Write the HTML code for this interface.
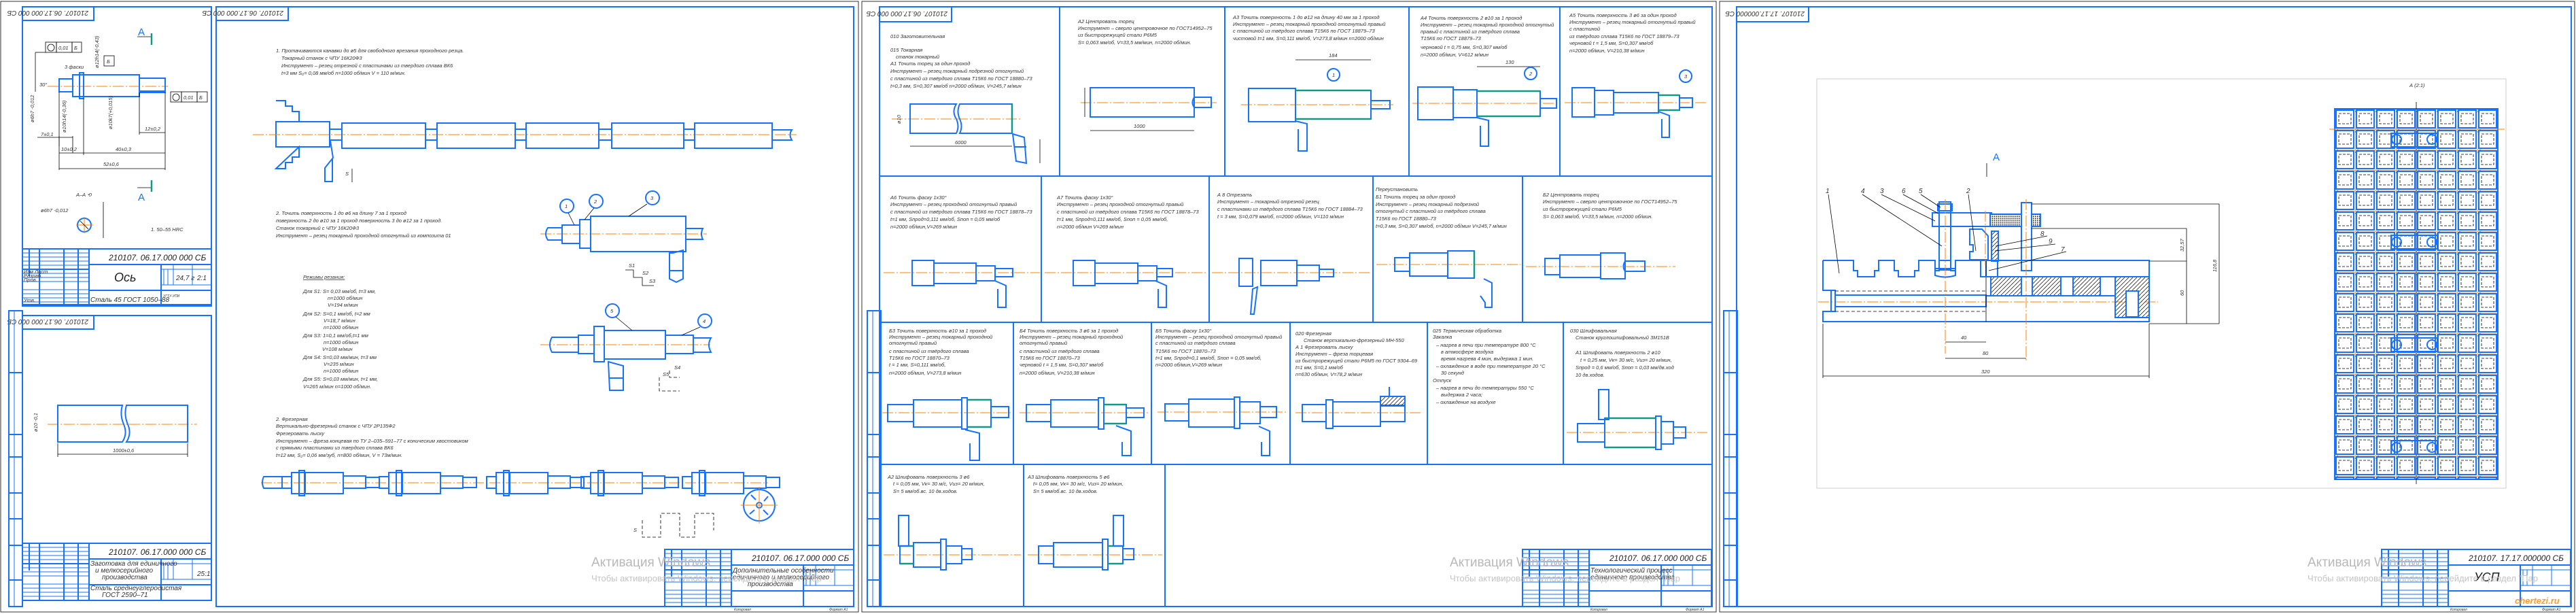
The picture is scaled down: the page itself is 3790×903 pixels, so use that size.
<!DOCTYPE html>
<html><head><meta charset="utf-8">
<style>
html,body{margin:0;padding:0;background:#fff;}
svg{display:block}
.b{stroke:#1672ff;stroke-width:2;fill:none}
.bf{stroke:#1672ff;stroke-width:2;fill:#fff}
.t{stroke:#1672ff;stroke-width:1;fill:none}
.g{stroke:#119988;stroke-width:2.5;fill:none}
.o{stroke:#ff8000;stroke-width:1;stroke-dasharray:16 3 2 3;fill:none}
.k{stroke:#000;stroke-width:0.8;fill:none}
.kd{stroke:#000;stroke-width:0.8;stroke-dasharray:5 3;fill:none}
.gr{stroke:#ccc;stroke-width:1;fill:none}
text{font-family:"Liberation Sans Narrow","Liberation Sans",sans-serif;font-style:italic;font-size:7.5px;fill:#333}
.big{font-size:12px;fill:#222}
.mid{font-size:10px}
.wm{font-family:"Liberation Sans",sans-serif;font-style:normal;fill:#b8b8b8;font-size:19px}
.wm2{font-family:"Liberation Sans",sans-serif;font-style:normal;fill:#c4c4c4;font-size:13px}
</style></head><body>
<svg width="3790" height="903" viewBox="0 0 3790 903" xmlns="http://www.w3.org/2000/svg">
<defs>
<g id="tb">
 <rect x="0" y="0" width="278" height="84" class="b"/>
 <line x1="98" y1="0" x2="98" y2="84" class="b"/>
 <line x1="98" y1="23" x2="278" y2="23" class="b"/>
 <line x1="98" y1="61" x2="278" y2="61" class="b"/>
 <line x1="204" y1="23" x2="204" y2="84" class="b"/>
 <line x1="204" y1="30" x2="278" y2="30" class="t"/>
 <line x1="204" y1="53" x2="278" y2="53" class="t"/>
 <line x1="222" y1="23" x2="222" y2="53" class="t"/>
 <line x1="250" y1="23" x2="250" y2="53" class="t"/>
 <line x1="208" y1="30" x2="208" y2="53" class="t"/>
 <line x1="214" y1="30" x2="214" y2="53" class="t"/>
 <line x1="10" y1="0" x2="10" y2="40" class="b"/>
 <line x1="25" y1="0" x2="25" y2="84" class="b"/>
 <line x1="61" y1="0" x2="61" y2="84" class="b"/>
 <line x1="82" y1="0" x2="82" y2="84" class="b"/>
 <line x1="0" y1="6" x2="98" y2="6" class="t"/>
 <line x1="0" y1="12" x2="98" y2="12" class="t"/>
 <line x1="0" y1="18" x2="98" y2="18" class="t"/>
 <line x1="0" y1="24" x2="98" y2="24" class="t"/>
 <line x1="0" y1="30" x2="98" y2="30" class="b"/>
 <line x1="0" y1="36" x2="98" y2="36" class="t"/>
 <line x1="0" y1="42" x2="98" y2="42" class="t"/>
 <line x1="0" y1="48" x2="98" y2="48" class="t"/>
 <line x1="0" y1="60" x2="98" y2="60" class="t"/>
 <line x1="0" y1="66" x2="98" y2="66" class="t"/>
 <line x1="0" y1="72" x2="98" y2="72" class="t"/>
 <line x1="0" y1="78" x2="98" y2="78" class="t"/>
</g>
<g id="strip">
 <rect x="0" y="0" width="20" height="435" class="b"/>
 <line x1="0" y1="91" x2="20" y2="91" class="b"/>
 <line x1="0" y1="182" x2="20" y2="182" class="b"/>
 <line x1="0" y1="215" x2="20" y2="215" class="b"/>
 <line x1="0" y1="268" x2="20" y2="268" class="b"/>
 <line x1="0" y1="306" x2="20" y2="306" class="b"/>
 <line x1="0" y1="345" x2="20" y2="345" class="b"/>
 <line x1="0" y1="396" x2="20" y2="396" class="b"/>
 <line x1="8" y1="0" x2="8" y2="435" class="t"/>
</g>
<pattern id="grid" x="3435" y="160" width="30" height="30" patternUnits="userSpaceOnUse">
 <rect x="2" y="2" width="26" height="26" fill="none" stroke="#1672ff" stroke-width="2"/>
 <rect x="6" y="7" width="18" height="15" fill="none" stroke="#000" stroke-width="0.8" stroke-dasharray="4 2"/>
 <line x1="0" y1="0" x2="30" y2="0" stroke="#ff8000" stroke-width="1"/>
 <line x1="0" y1="0" x2="0" y2="30" stroke="#ff8000" stroke-width="1"/>
 <circle cx="0" cy="0" r="4" fill="none" stroke="#1672ff" stroke-width="1.5"/>
</pattern>
<pattern id="hat" width="6" height="6" patternUnits="userSpaceOnUse">
 <line x1="0" y1="6" x2="6" y2="0" stroke="#000" stroke-width="0.7"/>
</pattern>
<pattern id="knurl" width="3" height="3" patternUnits="userSpaceOnUse">
 <rect width="3" height="3" fill="#fff"/><rect width="1.5" height="1.5" fill="#000"/>
</pattern>
</defs>

<rect x="1" y="2" width="1262" height="898" class="k"/>
<rect x="1268" y="2" width="1257" height="898" class="k"/>
<rect x="2530" y="2" width="1258" height="898" class="k"/>

<!-- ================= SHEET 1 ================= -->
<rect x="33" y="10" width="278" height="438" class="b"/>
<rect x="33" y="10" width="105" height="20" class="b"/>
<text x="40" y="24" class="mid" transform="rotate(180 85 20)">210107. 06.17.000 000 СБ</text>
<rect x="33" y="464" width="278" height="419" class="b"/>
<rect x="33" y="464" width="105" height="20" class="b"/>
<text x="40" y="478" class="mid" transform="rotate(180 85 474)">210107. 06.17.000 000 СБ</text>
<rect x="318" y="10" width="938" height="882" class="b"/>
<rect x="318" y="10" width="106" height="20" class="b"/>
<text x="325" y="24" class="mid" transform="rotate(180 371 20)">210107. 06.17.000 000 СБ</text>
<use href="#strip" x="13" y="457"/>

<line x1="70" y1="127" x2="247" y2="127" class="o"/>
<rect x="87" y="116" width="20" height="19" class="b"/>
<rect x="107" y="110" width="98" height="32" class="b"/>
<rect x="117" y="107" width="6" height="38" class="b"/>
<rect x="205" y="115" width="38" height="21" class="b"/>
<line x1="205" y1="134" x2="243" y2="134" class="b" stroke-width="3"/>
<rect x="67" y="62" width="16" height="15" class="k"/><rect x="83" y="62" width="23" height="15" class="k"/><rect x="106" y="62" width="14" height="15" class="k"/>
<circle cx="75" cy="70" r="5" class="k"/><text x="86" y="73">0,01</text><text x="109" y="73">Б</text>
<rect x="251" y="135" width="16" height="15" class="k"/><rect x="267" y="135" width="23" height="15" class="k"/><rect x="290" y="135" width="15" height="15" class="k"/>
<circle cx="259" cy="143" r="5" class="k"/><text x="270" y="146">0,01</text><text x="293" y="146">Б</text>
<rect x="153" y="82" width="15" height="15" class="k"/><text x="157" y="93">Б</text>
<line x1="52" y1="77" x2="52" y2="135" class="k"/><line x1="52" y1="77" x2="67" y2="77" class="k"/>
<line x1="87" y1="200" x2="87" y2="215" class="k"/><line x1="107" y1="200" x2="107" y2="225" class="k"/>
<line x1="87" y1="225" x2="243" y2="225" class="k"/><line x1="87" y1="248" x2="243" y2="248" class="k"/>
<line x1="205" y1="195" x2="243" y2="195" class="k"/>
<line x1="87" y1="135" x2="87" y2="250" class="k"/><line x1="243" y1="136" x2="243" y2="250" class="k"/>
<line x1="205" y1="136" x2="205" y2="198" class="k"/><line x1="123" y1="145" x2="123" y2="228" class="k"/>
<line x1="55" y1="202" x2="107" y2="202" class="k"/>
<text x="60" y="200">7±0,1</text><text x="90" y="222">10±0,2</text><text x="170" y="222">40±0,3</text><text x="152" y="244">52±0,6</text><text x="213" y="192">12±0,2</text>
<text x="95" y="101">3 фаски</text><text x="58" y="127">30°</text>
<text x="0" y="0" transform="translate(50 180) rotate(-90)">ø6h7 -0,012</text>
<text x="0" y="0" transform="translate(97 195) rotate(-90)">ø10h14(-0,36)</text>
<text x="0" y="0" transform="translate(145 100) rotate(-90)">ø12h14(-0,43)</text>
<text x="0" y="0" transform="translate(165 190) rotate(-90)">ø10k7(+0,015)</text>
<text x="203" y="52" class="big" style="font-style:normal;fill:#1672ff;font-size:15px">А</text>
<line x1="202" y1="54" x2="222" y2="54" class="k"/><line x1="223" y1="49" x2="223" y2="66" class="g"/>
<text x="203" y="295" class="big" style="font-style:normal;fill:#1672ff;font-size:15px">А</text>
<line x1="202" y1="276" x2="222" y2="276" class="k"/><line x1="223" y1="265" x2="223" y2="282" class="g"/>
<text x="112" y="289">А–А ⟲</text><text x="60" y="312">ø6h7 -0,012</text>
<circle cx="124" cy="331" r="10" class="b"/><line x1="112" y1="331" x2="137" y2="331" stroke="#ff8000"/><line x1="124" y1="319" x2="124" y2="343" stroke="#ff8000"/>
<line x1="118" y1="325" x2="130" y2="337" class="k"/><line x1="152" y1="297" x2="152" y2="350" class="k"/>
<text x="222" y="340">1. 50–55 HRC</text>
<use href="#tb" x="33" y="366"/>
<text x="160" y="383" class="big">210107. 06.17.000 000 СБ</text>
<text x="168" y="414" class="big" style="font-size:18px">Ось</text>
<text x="133" y="444" class="mid">Сталь 45 ГОСТ 1050–88</text>
<text x="259" y="412" class="mid">24,7 г</text><text x="290" y="412" class="mid">2:1</text>
<text x="35" y="402">Изм Лист</text><text x="35" y="408">Разраб.</text><text x="35" y="414">Пров.</text><text x="35" y="444">Утв.</text>
<text x="240" y="437" style="font-size:5px">УГТУ-УПИ</text>
<line x1="70" y1="624" x2="290" y2="624" class="o"/>
<path d="M85 596 H180 Q176 610 182 624 Q188 638 180 650 H85 Z" class="b"/>
<path d="M186 596 H276 V650 H186 Q194 638 188 624 Q182 610 186 596 Z" class="b"/>
<line x1="85" y1="652" x2="85" y2="672" class="k"/><line x1="276" y1="652" x2="276" y2="672" class="k"/><line x1="85" y1="668" x2="276" y2="668" class="k"/>
<text x="166" y="665">1000±0,6</text>
<text x="0" y="0" transform="translate(55 635) rotate(-90)">ø10 -0,1</text>
<use href="#tb" x="33" y="799"/>
<text x="160" y="816" class="big">210107. 06.17.000 000 СБ</text>
<text x="133" y="832" class="mid">Заготовка для единичного</text>
<text x="140" y="842" class="mid">и мелкосерийного</text><text x="150" y="852" class="mid">производства</text>
<text x="133" y="868" class="mid">Сталь среднеуглеродистая</text><text x="150" y="878" class="mid">ГОСТ 2590–71</text>
<text x="290" y="847" class="mid">25:1</text>

<text x="406" y="77">1. Протачиваются канавки до ø5 для свободного врезания проходного резца.</text>
<text x="414" y="88">Токарный станок с ЧПУ 16К20Ф3</text>
<text x="414" y="99">Инструмент – резец отрезной с пластинами из твердого сплава ВК6</text>
<text x="414" y="110">t=3 мм        S₀= 0,08 мм/об        n=1000 об/мин        V = 110 м/мин.</text>
<path d="M406 148 H420 V156 H430 V164 H440 V179 M440 216 V231 H430 V239 H420 V248 H406 Z" class="b"/>
<rect x="406" y="179" width="79" height="37" class="b"/>
<line x1="372" y1="198" x2="1172" y2="198" class="o"/>
<rect x="485" y="190" width="18" height="16" class="b"/>
<rect x="503" y="181" width="123" height="37" class="b"/>
<rect x="626" y="190" width="17" height="16" class="b"/>
<rect x="643" y="181" width="115" height="37" class="b"/>
<rect x="758" y="190" width="16" height="16" class="b"/>
<rect x="774" y="181" width="107" height="37" class="b"/>
<rect x="881" y="190" width="19" height="16" class="b"/>
<rect x="900" y="181" width="106" height="37" class="b"/>
<rect x="1006" y="190" width="16" height="16" class="b"/>
<rect x="1022" y="181" width="114" height="37" class="b"/>
<path d="M1136 191 H1165 Q1160 198 1165 206 H1136" class="b"/>
<path d="M486 207 L490 232 L478 247 V267 H489 V234" class="b"/>
<line x1="518" y1="248" x2="518" y2="268" class="k"/><text x="508" y="258">S</text>
<text x="406" y="316">2.  Точить поверхность 1 до ø6 на длину 7 за 1 проход</text>
<text x="406" y="327">поверхность 2 до ø10 за 1 проход поверхность 3 до ø12 за 1 проход.</text>
<text x="406" y="338">Станок токарный с ЧПУ 16К20Ф3</text>
<text x="406" y="349">Инструмент – резец токарный проходной отогнутый из композита 01</text>
<line x1="795" y1="344" x2="1040" y2="344" class="o"/>
<path d="M827 335 H806 Q800 344 806 353 H827" class="b"/>
<rect x="827" y="331" width="26" height="27" class="b"/>
<rect x="853" y="323" width="16" height="42" class="b"/>
<rect x="869" y="318" width="140" height="52" class="b"/>
<path d="M1009 336 H1034 Q1030 344 1034 352 H1009" class="b"/>
<path d="M990 372 L1005 368 V410 L995 415 L985 410 V372 Z" class="b"/><line x1="985" y1="398" x2="1005" y2="398" class="b"/>
<circle cx="834" cy="303" r="10" class="b"/><text x="831" y="306">1</text>
<circle cx="877" cy="296" r="10" class="b"/><text x="874" y="299">2</text>
<circle cx="960" cy="291" r="10" class="b"/><text x="957" y="294">3</text>
<line x1="836" y1="313" x2="845" y2="331" class="k"/><line x1="874" y1="306" x2="860" y2="323" class="k"/><line x1="952" y1="300" x2="925" y2="318" class="k"/>
<path d="M920 397 H932 V408 H945 V420 H962" class="k"/><text x="925" y="393">S1</text><text x="945" y="404">S2</text><text x="955" y="416">S3</text>
<text x="446" y="410" style="text-decoration:underline">Режимы резания:</text>
<text x="446" y="431">Для S1: S= 0,03 мм/об, t=3 мм,</text><text x="482" y="441">n=1000 об/мин</text><text x="482" y="451">V=194 м/мин</text>
<text x="446" y="464">Для S2: S=0,1 мм/об, t=2 мм</text><text x="476" y="474">V=18,7 м/мин</text><text x="476" y="484">n=1000 об/мин</text>
<text x="446" y="496">Для S3: 1=0,1 мм/об,t=1 мм</text><text x="476" y="506">n=1000 об/мин</text><text x="474" y="516">V=108 м/мин</text>
<text x="446" y="528">Для S4: S=0,03 мм/мин, t=3 мм</text><text x="476" y="538">V=235 м/мин</text><text x="476" y="548">n=1000 об/мин</text>
<text x="446" y="560">Для S5: S=0,03 мм/мин, t=1 мм,</text><text x="446" y="571">V=265 м/мин  n=1000 об/мин.</text>
<line x1="795" y1="507" x2="1045" y2="507" class="o"/>
<path d="M851 496 H812 Q806 507 812 518 H851" class="b"/>
<rect x="851" y="493" width="23" height="27" class="b"/>
<rect x="874" y="480" width="15" height="52" class="b"/>
<rect x="889" y="486" width="90" height="42" class="b"/>
<rect x="979" y="493" width="41" height="27" class="b"/>
<path d="M1020 497 H1046 Q1040 507 1046 518 H1020" class="b"/>
<path d="M895 532 L917 538 V574 H897 Z" class="b"/><line x1="897" y1="556" x2="917" y2="556" class="b"/>
<circle cx="901" cy="457" r="10" class="b"/><text x="898" y="460">5</text>
<circle cx="1037" cy="472" r="10" class="b"/><text x="1034" y="475">4</text>
<line x1="906" y1="466" x2="930" y2="486" class="k"/><line x1="1030" y1="481" x2="1003" y2="493" class="k"/>
<path d="M970 555 V575 H1000 M985 545 V555 H1000" class="kd"/><text x="992" y="543">S4</text><text x="975" y="553">S5</text>
<text x="406" y="619">2. Фрезерная</text>
<text x="406" y="629">Вертикально-фрезерный станок с ЧПУ 2Р135Ф2</text>
<text x="406" y="640">Фрезеровать лыску</text>
<text x="406" y="651">Инструмент –  фреза концевая по ТУ 2–035–591–77 с коническим хвостовиком</text>
<text x="406" y="661">с  прямыми пластинами из твердого сплава ВК6</text>
<text x="406" y="672">t=12 мм,        S₂= 0,06 мм/зуб,        n=800 об/мин,        V = 73м/мин.</text>
<line x1="384" y1="710" x2="1130" y2="710" class="o"/>
<path d="M415 701 H388 Q384 710 388 718 H415" class="b"/>
<g id="mu">
 <rect x="415" y="701" width="14" height="17" class="b"/>
 <rect x="429" y="695" width="20" height="31" class="b"/>
 <rect x="440" y="692" width="8" height="37" class="b"/>
 <rect x="449" y="695" width="56" height="31" class="b"/>
 <rect x="505" y="700" width="33" height="18" class="b"/>
 <rect x="538" y="702" width="20" height="15" class="b"/>
</g>
<use href="#mu" x="143"/><use href="#mu" x="301"/><use href="#mu" x="440"/><use href="#mu" x="589"/>
<circle cx="1117" cy="743" r="23" class="b"/>
<circle cx="1117" cy="743" r="4" class="b"/>
<line x1="1090" y1="743" x2="1144" y2="743" stroke="#ff8000"/><line x1="1117" y1="716" x2="1117" y2="770" stroke="#ff8000"/>
<path d="M1105 728 L1112 735 M1130 730 L1124 737 M1103 756 L1110 750 M1130 757 L1123 750" class="b"/>
<path d="M945 765 V790 H972 V755 H1000 V790 H1022 V755 H1050 V780" class="kd"/><text x="932" y="782">S</text>
<use href="#tb" x="978" y="808"/>
<text x="1106" y="825" class="big">210107. 06.17.000 000 СБ</text>
<text x="1078" y="842" class="mid">Дополнительные особенности</text><text x="1078" y="852" class="mid">единичного и мелкосерийного</text><text x="1100" y="862" class="mid">производства</text>
<text x="870" y="833" class="wm">Активация Windows</text>
<text x="870" y="855" class="wm2">Чтобы активировать Windows, перейдите в раздел "Пар</text>
<text x="1080" y="898" style="font-size:5px">Копировал</text><text x="1220" y="898" style="font-size:5px">Формат А1</text>

<!-- ================= SHEET 2 ================= -->
<rect x="1294" y="10" width="1225" height="882" class="b"/>
<rect x="1294" y="10" width="106" height="22" class="b"/>
<text x="1300" y="25" class="mid" transform="rotate(180 1347 21)">210107. 06.17.000 000 СБ</text>
<use href="#strip" x="1276" y="457"/>
<line x1="1294" y1="259" x2="2519" y2="259" class="b"/>
<line x1="1294" y1="474" x2="2519" y2="474" class="b"/>
<line x1="1294" y1="683" x2="2519" y2="683" class="b"/>
<line x1="1559" y1="10" x2="1559" y2="259" class="b"/><line x1="1802" y1="10" x2="1802" y2="259" class="b"/>
<line x1="2073" y1="10" x2="2073" y2="259" class="b"/><line x1="2295" y1="10" x2="2295" y2="259" class="b"/>
<line x1="1532" y1="259" x2="1532" y2="474" class="b"/><line x1="1779" y1="259" x2="1779" y2="474" class="b"/>
<line x1="2020" y1="259" x2="2020" y2="474" class="b"/><line x1="2240" y1="259" x2="2240" y2="474" class="b"/>
<line x1="1491" y1="474" x2="1491" y2="683" class="b"/><line x1="1694" y1="474" x2="1694" y2="683" class="b"/>
<line x1="1898" y1="474" x2="1898" y2="683" class="b"/><line x1="2100" y1="474" x2="2100" y2="683" class="b"/>
<line x1="2300" y1="474" x2="2300" y2="683" class="b"/>
<line x1="1506" y1="683" x2="1506" y2="892" class="b"/><line x1="1714" y1="683" x2="1714" y2="892" class="b"/>

<text x="1310" y="56">010       Заготовительная</text>
<text x="1310" y="76">015 Токарная</text><text x="1318" y="86">станок токарный</text>
<text x="1310" y="96">А1  Точить торец за один проход</text>
<text x="1310" y="107">Инструмент – резец токарный подрезной отогнутый</text>
<text x="1310" y="118">с пластиной из твёрдого сплава Т15К6 по ГОСТ 18880–73</text>
<text x="1310" y="129">t=0,3 мм,   S=0,307 мм/об    n=2000 об/мин,    V=245,7 м/мин</text>
<line x1="1312" y1="175" x2="1503" y2="175" class="o"/>
<path d="M1339 153 H1407 Q1400 164 1407 175 Q1412 186 1407 196 H1339 Z" class="b"/>
<path d="M1412 153 H1489 V196 H1412 Q1417 186 1412 175 Q1407 164 1412 153 Z" class="b"/>
<line x1="1489" y1="153" x2="1489" y2="196" class="g"/>
<path d="M1490 197 L1507 202 L1510 240 L1495 237 Z" class="b"/><line x1="1493" y1="216" x2="1510" y2="216" class="b"/>
<line x1="1339" y1="215" x2="1489" y2="215" class="k"/><text x="1405" y="212">6000</text>
<line x1="1530" y1="205" x2="1530" y2="240" class="k"/>
<text x="0" y="0" transform="translate(1325 182) rotate(-90)">ø10</text>
<text x="1586" y="34">А2  Центровать торец</text>
<text x="1586" y="44">Инструмент – сверло центровочное по ГОСТ14952–75</text>
<text x="1586" y="54">из быстрорежущей стали Р6М5</text>
<text x="1586" y="65">S= 0,063 мм/об, V=33,5 мм/мин, n=2000 об/мин.</text>
<line x1="1590" y1="151" x2="1790" y2="151" class="o"/>
<rect x="1604" y="129" width="153" height="43" class="b"/>
<path d="M1757 143 H1782 V158 H1757 Q1752 151 1757 143" class="b"/>
<line x1="1604" y1="192" x2="1757" y2="192" class="k"/><text x="1668" y="188">1000</text>
<line x1="1596" y1="129" x2="1596" y2="172" class="k"/>
<text x="1814" y="28">А3  Точить поверхность 1 до ø12 на длину 40 мм за 1 проход</text>
<text x="1814" y="38">Инструмент – резец токарный проходной отогнутый правый</text>
<text x="1814" y="48">с пластиной из твёрдого сплава Т15К6 по ГОСТ 18879–73</text>
<text x="1814" y="59">чистовой t=1 мм, S=0,111 мм/об, V=273,8 м/мин     n=2000 об/мин</text>
<line x1="1826" y1="154" x2="2050" y2="154" class="o"/>
<rect x="1837" y="130" width="69" height="49" class="b"/>
<rect x="1906" y="133" width="111" height="42" class="b"/>
<line x1="1906" y1="133" x2="2017" y2="133" class="g"/><line x1="1906" y1="175" x2="2017" y2="175" class="g"/>
<path d="M2017 148 H2045 V160 H2017" class="b"/>
<path d="M1906 178 L1923 182 V222 H1910 V190" class="b"/>
<line x1="1906" y1="88" x2="2017" y2="88" class="k"/><text x="1955" y="84">184</text>
<circle cx="1962" cy="110" r="9" class="b"/><text x="1960" y="113">1</text>
<text x="2090" y="29">А4   Точить поверхность 2 ø10 за 1 проход</text>
<text x="2090" y="39">Инструмент – резец токарный проходной отогнутый</text>
<text x="2090" y="49">правый с пластиной из твёрдого сплава</text>
<text x="2090" y="59">Т15К6 по ГОСТ 18879–73</text>
<text x="2090" y="72">черновой t = 0,75 мм, S=0,307 мм/об</text>
<text x="2090" y="83">n=2000 об/мин, V=612 м/мин</text>
<line x1="2078" y1="152" x2="2290" y2="152" class="o"/>
<rect x="2086" y="128" width="52" height="48" class="b"/>
<rect x="2138" y="132" width="35" height="41" class="b"/>
<rect x="2173" y="134" width="93" height="37" class="b"/>
<line x1="2173" y1="134" x2="2266" y2="134" class="g"/><line x1="2173" y1="171" x2="2266" y2="171" class="g"/>
<path d="M2266 145 H2290 V159 H2266" class="b"/>
<path d="M2173 173 L2190 177 V215 H2178 V185" class="b"/>
<line x1="2173" y1="98" x2="2266" y2="98" class="k"/><text x="2215" y="94">130</text>
<circle cx="2252" cy="108" r="9" class="b"/><text x="2250" y="111">2</text>
<text x="2309" y="25">А5   Точить поверхность 3 ø6 за один проход</text>
<text x="2309" y="35">Инструмент – резец токарный отогнутый правый</text>
<text x="2309" y="45">с пластиной</text>
<text x="2309" y="56">из твёрдого сплава Т15К6 по ГОСТ 18879–73</text>
<text x="2309" y="66">черновой t = 1,5 мм, S=0,307 мм/об</text>
<text x="2309" y="77">n=2000 об/мин, V=210,38 м/мин</text>
<line x1="2302" y1="151" x2="2512" y2="151" class="o"/>
<rect x="2313" y="129" width="33" height="43" class="b"/>
<rect x="2346" y="133" width="28" height="36" class="b"/>
<rect x="2374" y="136" width="66" height="30" class="b"/>
<rect x="2440" y="140" width="31" height="22" class="b"/>
<line x1="2440" y1="140" x2="2471" y2="140" class="g"/><line x1="2440" y1="162" x2="2471" y2="162" class="g"/>
<path d="M2471 144 H2490 V158 H2471" class="b"/>
<path d="M2440 164 L2456 170 V202 H2445 V175" class="b"/>
<circle cx="2480" cy="112" r="9" class="b"/><text x="2478" y="115">3</text>

<text x="1310" y="293">А6   Точить фаску 1х30°</text><text x="1310" y="303">Инструмент – резец проходной отогнутый правый</text>
<text x="1310" y="314">с пластиной из твёрдого сплава Т15К6 по ГОСТ 18878–73</text><text x="1310" y="325">t=1 мм, Sпрод=0,111 мм/об, Sпоп = 0,05 мм/об</text><text x="1310" y="336">n=2000 об/мин,V=269 м/мин</text>
<text x="1555" y="293">А7    Точить фаску 1х30°</text><text x="1555" y="303">Инструмент – резец проходной отогнутый правый</text>
<text x="1555" y="314">с пластиной из твёрдого сплава Т15К6 по ГОСТ 18878–73</text><text x="1555" y="325">t=1 мм, Sпрод=0,111 мм/об, Sпоп = 0,05 мм/об,</text><text x="1555" y="336">n=2000 об/мин V=269 м/мин</text>
<text x="1791" y="289">А 8    Отрезать</text><text x="1791" y="299">Инструмент – токарный отрезной резец</text>
<text x="1791" y="310">с пластинами из твёрдого сплава Т15К6 по ГОСТ 18884–73</text><text x="1791" y="321">t = 3 мм, S=0,079 мм/об, n=2000 об/мин, V=110 м/мин</text>
<text x="2024" y="281">Переустановить</text><text x="2024" y="292">Б1  Точить торец за один проход</text><text x="2024" y="303">Инструмент – резец токарный подрезной</text>
<text x="2024" y="313">отогнутый с пластиной из твёрдого сплава</text><text x="2024" y="324">Т15К6 по ГОСТ 18880–73</text><text x="2024" y="335">t=0,3 мм, S=0,307 мм/об, n=2000 об/мин V=245,7 м/мин</text>
<text x="2270" y="289">Б2    Центровать торец</text><text x="2270" y="299">Инструмент – сверло центровочное по ГОСТ14952–75</text>
<text x="2270" y="310">из быстрорежущей стали Р6М5</text><text x="2270" y="321">S= 0,063 мм/об, V=33,5 м/мин, n=2000 об/мин.</text>
<line x1="1300" y1="401" x2="1530" y2="401" class="o"/>
<rect x="1342" y="383" width="32" height="37" class="b"/><rect x="1374" y="387" width="62" height="30" class="b"/><rect x="1436" y="391" width="28" height="22" class="b"/><path d="M1464 395 H1490 V407 H1464" class="b"/>
<path d="M1464 413 L1480 420 V452 H1468 V425" class="b"/>
<line x1="1537" y1="401" x2="1775" y2="401" class="o"/>
<rect x="1579" y="383" width="32" height="37" class="b"/><rect x="1611" y="387" width="63" height="30" class="b"/><rect x="1674" y="391" width="28" height="22" class="b"/><path d="M1702 395 H1725 V407 H1702" class="b"/>
<path d="M1700 413 L1716 420 V452 H1704 V425" class="b"/>
<line x1="1783" y1="401" x2="2015" y2="401" class="o"/>
<rect x="1823" y="380" width="20" height="41" class="b"/><rect x="1855" y="383" width="53" height="37" class="b"/><rect x="1908" y="390" width="33" height="23" class="b"/><path d="M1941 396 H1962 V407 H1941" class="b"/>
<path d="M1843 425 L1850 422 L1845 462 H1840 Z" class="b"/>
<line x1="2025" y1="389" x2="2237" y2="389" class="o"/>
<rect x="2052" y="379" width="22" height="20" class="b"/><rect x="2074" y="372" width="56" height="34" class="b"/><rect x="2130" y="369" width="39" height="40" class="b"/>
<line x1="2169" y1="369" x2="2169" y2="409" class="g"/>
<path d="M2183 410 L2195 416 V452 H2185 V445 L2178 435" class="b"/>
<line x1="2245" y1="392" x2="2465" y2="392" class="o"/>
<rect x="2273" y="380" width="22" height="24" class="b"/><rect x="2295" y="375" width="60" height="33" class="b"/><rect x="2355" y="372" width="36" height="38" class="b"/>
<path d="M2391 384 H2420 V399 H2391 Q2386 392 2391 384" class="b"/>

<text x="1308" y="489">Б3   Точить поверхность ø10 за 1 проход</text><text x="1308" y="498">Инструмент – резец токарный проходной</text><text x="1308" y="507">отогнутый правый</text>
<text x="1308" y="519">с пластиной из твёрдого сплава</text><text x="1308" y="529">Т15К6 по ГОСТ 18870–73</text><text x="1308" y="539">t = 1 мм, S=0,111 мм/об,</text><text x="1308" y="551">n=2000 об/мин, V=273,8 м/мин</text>
<text x="1500" y="489">Б4     Точить поверхность 3 ø6 за 1 проход</text><text x="1500" y="498">Инструмент – резец токарный проходной</text><text x="1500" y="507">отогнутый правый</text>
<text x="1500" y="519">с пластиной из твёрдого сплава</text><text x="1500" y="529">Т15К6 по ГОСТ 18870–73</text><text x="1500" y="539">черновой t = 1,5 мм, S=0,307 мм/об</text><text x="1500" y="551">n=2000 об/мин, V=210,38 м/мин</text>
<text x="1700" y="489">Б5     Точить фаску 1х30°</text><text x="1700" y="498">Инструмент – резец проходной отогнутый правый</text>
<text x="1700" y="507">с пластиной из твёрдого сплава</text><text x="1700" y="519">Т15К6 по ГОСТ 18870–73</text><text x="1700" y="529">t=1 мм, Sпрод=0,1 мм/об, Sпоп = 0,05 мм/об,</text><text x="1700" y="539">n=2000 об/мин,V=269 м/мин</text>
<text x="1906" y="493">020    Фрезерная</text><text x="1918" y="503">Станок вертикально-фрезерный МН-550</text><text x="1906" y="513">А 1    Фрезеровать лыску</text>
<text x="1906" y="523">Инструмент – фреза торцевая</text><text x="1906" y="533">из быстрорежущей стали Р6М5 по ГОСТ 9304–69</text><text x="1906" y="543">t=1 мм, S=0,1 мм/об</text><text x="1906" y="553">n=630 об/мин, V=78,2 м/мин</text>
<text x="2108" y="489">025   Термическая обработка</text><text x="2108" y="498">Закалка</text><text x="2113" y="510">– нагрев в печи при температуре 800 °С</text>
<text x="2120" y="520">в атмосфере воздуха</text><text x="2120" y="530">время нагрева 4 мин, выдержка 1 мин.</text><text x="2113" y="541">– охлаждение в воде при температуре 20 °С</text>
<text x="2120" y="551">30 секунд</text><text x="2108" y="562">Отпуск</text><text x="2113" y="573">– нагрев в печи до температуры 550 °С</text>
<text x="2120" y="583">выдержка 2 часа;</text><text x="2113" y="594">– охлаждение на воздухе</text>
<text x="2310" y="489">030    Шлифовальная</text><text x="2318" y="499">Станок круглошлифовальный 3М151В</text>
<text x="2318" y="521">А1    Шлифовать поверхность 2 ø10</text><text x="2325" y="532">t = 0,25 мм, Vк= 30 м/с, Vиз= 20 м/мин,</text><text x="2318" y="543">Sпрод = 0,6 мм/об, Sпоп = 0,03 мм/дв.ход</text><text x="2318" y="554">10 дв.ходов.</text>
<line x1="1298" y1="607" x2="1487" y2="607" class="o"/>
<rect x="1306" y="595" width="38" height="25" class="b"/><rect x="1344" y="588" width="71" height="40" class="b"/><rect x="1415" y="585" width="8" height="46" class="b"/><rect x="1423" y="588" width="35" height="40" class="b"/>
<line x1="1423" y1="588" x2="1458" y2="588" class="g"/><line x1="1423" y1="628" x2="1458" y2="628" class="g"/>
<path d="M1458 598 H1484 V614 H1458" class="b"/><path d="M1420 632 L1441 637 V677 H1427 V652" class="b"/>
<line x1="1500" y1="607" x2="1690" y2="607" class="o"/>
<rect x="1510" y="595" width="36" height="25" class="b"/><rect x="1546" y="588" width="70" height="40" class="b"/><rect x="1616" y="585" width="8" height="46" class="b"/><rect x="1624" y="595" width="33" height="28" class="b"/>
<line x1="1624" y1="595" x2="1657" y2="595" class="g"/><line x1="1624" y1="623" x2="1657" y2="623" class="g"/>
<path d="M1657 600 H1683 V614 H1657" class="b"/><path d="M1642 626 L1664 634 V670 H1651 V650" class="b"/>
<line x1="1703" y1="606" x2="1894" y2="606" class="o"/>
<rect x="1714" y="594" width="35" height="25" class="b"/><rect x="1749" y="587" width="67" height="41" class="b"/><rect x="1816" y="584" width="8" height="46" class="b"/><rect x="1824" y="591" width="30" height="32" class="b"/>
<path d="M1854 598 H1878 V614 H1854" class="b"/><path d="M1852 627 L1868 634 V670 H1856 V650" class="b"/>
<line x1="1906" y1="607" x2="2092" y2="607" class="o"/>
<rect x="1916" y="595" width="35" height="25" class="b"/><rect x="1951" y="588" width="10" height="42" class="b"/><rect x="1961" y="591" width="70" height="36" class="b"/><rect x="2031" y="596" width="36" height="24" class="b"/>
<rect x="2031" y="583" width="36" height="14" class="b" style="fill:url(#hat)"/><line x1="2044" y1="569" x2="2044" y2="583" class="b"/>
<line x1="2305" y1="636" x2="2512" y2="636" class="o"/>
<rect x="2321" y="623" width="40" height="27" class="b"/><rect x="2361" y="615" width="75" height="43" class="b"/><rect x="2436" y="612" width="8" height="49" class="b"/><rect x="2444" y="620" width="18" height="33" class="b"/><path d="M2462 628 H2480 V644 H2462" class="b"/>
<line x1="2361" y1="615" x2="2436" y2="615" class="g"/><line x1="2361" y1="658" x2="2436" y2="658" class="g"/>
<rect x="2352" y="573" width="15" height="44" class="b"/>

<text x="1306" y="704">А2    Шлифовать поверхность 3 ø6</text><text x="1314" y="714">t = 0,05 мм, Vк= 30 м/с, Vиз= 20 м/мин,</text><text x="1314" y="725">S= 5 мм/об.вс. 10 дв.ходов.</text>
<text x="1512" y="704">А3     Шлифовать поверхность 5 ø6</text><text x="1520" y="714">t= 0,05 мм, Vк= 30 м/с, Vиз= 20 м/мин,</text><text x="1520" y="725">S= 5 мм/об.вс. 10 дв.ходов.</text>
<line x1="1300" y1="816" x2="1502" y2="816" class="o"/>
<rect x="1324" y="803" width="20" height="26" class="b"/><rect x="1344" y="798" width="40" height="36" class="b"/>
<line x1="1324" y1="803" x2="1344" y2="803" class="g"/><line x1="1324" y1="829" x2="1344" y2="829" class="g"/>
<rect x="1384" y="793" width="8" height="45" class="b"/><rect x="1392" y="803" width="23" height="26" class="b"/><path d="M1415 807 H1430 V823 H1415" class="b"/>
<rect x="1322" y="758" width="15" height="45" class="b"/>
<line x1="1512" y1="816" x2="1710" y2="816" class="o"/>
<rect x="1528" y="803" width="22" height="26" class="b"/><rect x="1550" y="798" width="72" height="36" class="b"/><rect x="1622" y="793" width="8" height="45" class="b"/><rect x="1630" y="803" width="22" height="26" class="b"/>
<path d="M1652 807 H1668 V823 H1652" class="b"/>
<line x1="1630" y1="803" x2="1652" y2="803" class="g"/><line x1="1630" y1="829" x2="1652" y2="829" class="g"/>
<rect x="1638" y="758" width="15" height="45" class="b"/>

<use href="#tb" x="2240" y="808"/>
<text x="2368" y="825" class="big">210107. 06.17.000 000 СБ</text>
<text x="2340" y="842" class="mid">Технологический процесс</text><text x="2340" y="852" class="mid">единичного производства</text>
<text x="2133" y="833" class="wm">Активация Windows</text>
<text x="2133" y="855" class="wm2">Чтобы активировать Windows, перейдите в раздел "Пар</text>
<text x="2340" y="898" style="font-size:5px">Копировал</text><text x="2480" y="898" style="font-size:5px">Формат А1</text>

<!-- ================= SHEET 3 ================= -->
<rect x="2555" y="10" width="1228" height="882" class="b"/>
<rect x="2555" y="10" width="106" height="22" class="b"/>
<text x="2561" y="25" class="mid" transform="rotate(180 2608 21)">210107. 17.17.000000 СБ</text>
<use href="#strip" x="2536" y="457"/>
<rect x="2673" y="116" width="1014" height="602" class="gr"/>
<line x1="2675" y1="444" x2="3175" y2="444" class="o"/>
<path d="M2682 383 H2727 V398 H2733 V407 H2758 V398 H2764 V383 H2787 V398 H2793 V407 H2817 V398 H2823 V383 H2847 V398 H2853 V383 H2870 V398 H2877 V383 H2922" class="b"/>
<path d="M2682 383 V427 H2694 V458 H2682 V473 H3162 V383" class="b"/>
<path d="M2694 427 H2700 V434 M2694 458 H2700 V451" class="b"/>
<rect x="2700" y="434" width="222" height="17" class="b"/>
<line x1="2700" y1="428" x2="2922" y2="428" class="kd"/><line x1="2700" y1="458" x2="2922" y2="458" class="kd"/>
<rect x="2922" y="383" width="240" height="24" class="b"/>
<rect x="2929" y="407" width="45" height="28" class="b" style="fill:url(#hat)"/>
<rect x="2990" y="407" width="42" height="28" class="b" style="fill:url(#hat)"/>
<rect x="3050" y="407" width="40" height="28" class="b" style="fill:url(#hat)"/>
<rect x="3112" y="407" width="50" height="60" class="b" style="fill:url(#hat)"/>
<rect x="3128" y="428" width="18" height="38" class="bf"/>
<line x1="2922" y1="435" x2="3112" y2="435" class="b"/><line x1="2922" y1="383" x2="2922" y2="473" class="k"/>
<rect x="2853" y="297" width="17" height="100" class="b"/>
<path d="M2847 395 H2877 V405 Q2862 410 2847 405 Z" class="b"/>
<rect x="2851" y="300" width="21" height="10" class="b"/>
<rect x="2843" y="313" width="87" height="20" class="b"/>
<rect x="2928" y="315" width="46" height="18" class="b" style="fill:url(#knurl)"/>
<rect x="2989" y="315" width="13" height="18" class="b" style="fill:url(#knurl)"/>
<rect x="2974" y="298" width="15" height="100" class="b"/>
<path d="M2898 337 H2916 L2925 347 V382 H2898 V370 H2903 V360 H2898 Z" class="b"/>
<rect x="2930" y="340" width="10" height="44" class="b" style="fill:url(#hat)"/>
<rect x="2914" y="383" width="25" height="24" class="b"/>
<line x1="2862" y1="293" x2="2862" y2="520" class="o"/><line x1="2981" y1="293" x2="2981" y2="530" class="o"/>
<line x1="2921" y1="310" x2="2921" y2="390" class="o"/>
<line x1="2690" y1="286" x2="2706" y2="402" class="k"/><text x="2686" y="284" class="mid">1</text>
<line x1="2740" y1="286" x2="2857" y2="362" class="k"/><text x="2738" y="284" class="mid">4</text>
<line x1="2768" y1="286" x2="2847" y2="325" class="k"/><text x="2766" y="284" class="mid">3</text>
<line x1="2800" y1="286" x2="2852" y2="314" class="k"/><text x="2798" y="284" class="mid">6</text>
<line x1="2826" y1="286" x2="2855" y2="305" class="k"/><text x="2823" y="284" class="mid">5</text>
<line x1="2896" y1="286" x2="2907" y2="369" class="k"/><text x="2893" y="284" class="mid">2</text>
<line x1="3012" y1="347" x2="2936" y2="362" class="k"/><text x="3002" y="347" class="mid">8</text>
<line x1="3024" y1="359" x2="2935" y2="369" class="k"/><text x="3014" y="358" class="mid">9</text>
<line x1="3040" y1="370" x2="2926" y2="398" class="k"/><text x="3032" y="370" class="mid">7</text>
<text x="2932" y="236" class="big" style="font-style:normal;fill:#1672ff;font-size:15px">А</text>
<line x1="2923" y1="240" x2="2923" y2="260" class="k"/>
<line x1="2989" y1="300" x2="3265" y2="300" class="k"/><line x1="2989" y1="336" x2="3217" y2="336" class="k"/>
<line x1="3162" y1="384" x2="3217" y2="384" class="k"/><line x1="3162" y1="476" x2="3265" y2="476" class="k"/>
<line x1="3217" y1="336" x2="3217" y2="476" class="k"/><line x1="3265" y1="300" x2="3265" y2="476" class="k"/>
<text x="0" y="0" transform="translate(3213 370) rotate(-90)">32,57</text>
<text x="0" y="0" transform="translate(3213 435) rotate(-90)">60</text>
<text x="0" y="0" transform="translate(3261 400) rotate(-90)">116,8</text>
<line x1="2862" y1="503" x2="2922" y2="503" class="k"/><text x="2885" y="499">40</text>
<line x1="2862" y1="527" x2="2981" y2="527" class="k"/><text x="2917" y="522">80</text>
<line x1="2682" y1="476" x2="2682" y2="556" class="k"/><line x1="3162" y1="476" x2="3162" y2="556" class="k"/>
<line x1="2682" y1="553" x2="3162" y2="553" class="k"/><text x="2915" y="549">320</text>
<text x="3545" y="128">А (2:1)</text>
<rect x="3435" y="160" width="240" height="545" fill="url(#grid)"/>
<rect x="3435" y="160" width="240" height="545" class="b"/>
<line x1="3427" y1="190" x2="3685" y2="190" stroke="#ff8000"/>
<line x1="3555" y1="150" x2="3555" y2="712" class="k" stroke-width="2"/>
<g class="b">
<rect x="3518" y="196" width="68" height="20"/><circle cx="3526" cy="205" r="7"/><circle cx="3578" cy="205" r="7"/>
<rect x="3518" y="346" width="68" height="20"/><circle cx="3526" cy="356" r="7"/><circle cx="3578" cy="356" r="7"/>
<rect x="3518" y="497" width="68" height="20"/><circle cx="3526" cy="507" r="7"/><circle cx="3578" cy="507" r="7"/>
<rect x="3518" y="648" width="68" height="20"/><circle cx="3526" cy="658" r="7"/><circle cx="3578" cy="658" r="7"/>
</g>
<use href="#tb" x="3504" y="808"/>
<text x="3632" y="825" class="big">210107. 17.17.000000 СБ</text>
<text x="3640" y="855" class="big" style="font-size:18px">УСП</text>
<text x="3395" y="833" class="wm">Активация Windows</text>
<text x="3395" y="855" class="wm2">Чтобы активировать Windows, перейдите в раздел "Пар</text>
<text x="3700" y="888" style="font-size:13px;fill:#ff9c2a;font-weight:bold">chertezi.ru</text>
<text x="3605" y="898" style="font-size:5px">Копировал</text><text x="3740" y="898" style="font-size:5px">Формат А1</text>
</svg>
</body></html>
